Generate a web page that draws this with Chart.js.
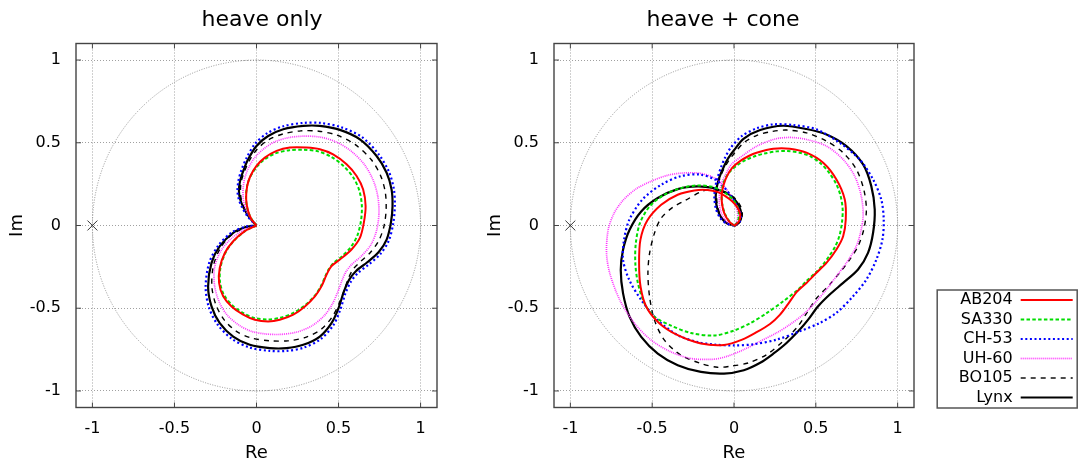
<!DOCTYPE html>
<html>
<head>
<meta charset="utf-8">
<script src="https://cdn.jsdelivr.net/npm/chart.js@4/dist/chart.umd.min.js"></script>
<style>
  body { margin: 0; background: #fff; width: 1081px; height: 462px; position: relative; overflow: hidden; }
  canvas { position: absolute; }
</style>
</head>
<body>
<canvas id="heave" width="524" height="462" style="left:0;top:0;width:524px;height:462px"></canvas>
<canvas id="cone" width="486" height="462" style="left:480px;top:0;width:486px;height:462px"></canvas>
<canvas id="key" width="301" height="140" style="left:780px;top:280px;width:301px;height:140px"></canvas>
<script>
const SERIES = ["AB204", "SA330", "CH-53", "UH-60", "BO105", "Lynx"];
const PANEL_TITLES = ["heave only", "heave + cone"];
const TICKS = [-1, -0.5, 0, 0.5, 1];
const TICK_LABELS = ["-1", "-0.5", "0", "0.5", "1"];
const CRITICAL_POINT = [[-1, 0]];

// heave only  [Re, Im]
const heaveAB204 = [[0,0],[-0.03,0.036],[-0.051,0.087],[-0.063,0.158],[-0.057,0.238],[-0.037,0.299],[0,0.36],[0.051,0.41],[0.122,0.451],[0.203,0.471],[0.305,0.471],[0.386,0.461],[0.467,0.43],[0.549,0.37],[0.61,0.299],[0.65,0.218],[0.665,0.117],[0.654,0.016],[0.63,-0.075],[0.579,-0.145],[0.508,-0.206],[0.457,-0.246],[0.427,-0.297],[0.396,-0.368],[0.356,-0.428],[0.295,-0.489],[0.224,-0.539],[0.142,-0.57],[0.071,-0.58],[-0.01,-0.57],[-0.081,-0.539],[-0.152,-0.489],[-0.203,-0.428],[-0.228,-0.347],[-0.224,-0.257],[-0.193,-0.166],[-0.142,-0.095],[-0.071,-0.034],[0,0]];
const heaveSA330 = [[0,0],[-0.03,0.04],[-0.053,0.09],[-0.064,0.16],[-0.058,0.235],[-0.04,0.29],[-0.006,0.345],[0.043,0.395],[0.113,0.435],[0.2,0.455],[0.29,0.458],[0.375,0.448],[0.455,0.415],[0.53,0.36],[0.59,0.29],[0.627,0.21],[0.642,0.12],[0.637,0.03],[0.615,-0.06],[0.575,-0.13],[0.517,-0.19],[0.47,-0.227],[0.44,-0.265],[0.418,-0.31],[0.393,-0.365],[0.357,-0.422],[0.298,-0.48],[0.225,-0.528],[0.145,-0.558],[0.07,-0.568],[-0.01,-0.56],[-0.08,-0.53],[-0.148,-0.482],[-0.198,-0.42],[-0.222,-0.345],[-0.22,-0.257],[-0.19,-0.166],[-0.14,-0.095],[-0.07,-0.034],[0,0]];
const heaveCH53 = [[0,0],[-0.05,0.05],[-0.088,0.11],[-0.108,0.16],[-0.116,0.21],[-0.11,0.27],[-0.092,0.335],[-0.06,0.41],[-0.008,0.495],[0.066,0.558],[0.163,0.6],[0.285,0.62],[0.39,0.62],[0.515,0.594],[0.642,0.535],[0.745,0.43],[0.807,0.325],[0.837,0.22],[0.843,0.117],[0.833,0.012],[0.806,-0.092],[0.755,-0.172],[0.685,-0.235],[0.618,-0.287],[0.575,-0.34],[0.542,-0.41],[0.51,-0.51],[0.468,-0.603],[0.392,-0.686],[0.288,-0.738],[0.183,-0.758],[0.081,-0.758],[-0.043,-0.737],[-0.15,-0.685],[-0.236,-0.6],[-0.29,-0.495],[-0.31,-0.37],[-0.288,-0.225],[-0.232,-0.12],[-0.148,-0.04],[-0.063,-0.006],[0,0]];
const heaveUH60 = [[0,0],[-0.038,0.045],[-0.066,0.1],[-0.08,0.158],[-0.082,0.22],[-0.072,0.285],[-0.05,0.345],[-0.015,0.405],[0.04,0.46],[0.11,0.505],[0.2,0.532],[0.3,0.54],[0.395,0.533],[0.49,0.503],[0.58,0.447],[0.66,0.365],[0.712,0.272],[0.74,0.172],[0.746,0.07],[0.732,-0.03],[0.698,-0.115],[0.642,-0.182],[0.578,-0.238],[0.545,-0.28],[0.52,-0.335],[0.494,-0.405],[0.462,-0.475],[0.413,-0.545],[0.34,-0.605],[0.25,-0.643],[0.15,-0.658],[0.06,-0.656],[-0.03,-0.64],[-0.11,-0.6],[-0.18,-0.54],[-0.228,-0.46],[-0.256,-0.36],[-0.255,-0.25],[-0.215,-0.15],[-0.155,-0.08],[-0.075,-0.025],[0,0]];
const heaveBO105 = [[0,0],[-0.043,0.05],[-0.075,0.11],[-0.093,0.16],[-0.098,0.21],[-0.092,0.27],[-0.072,0.33],[-0.042,0.395],[0.005,0.462],[0.07,0.516],[0.16,0.553],[0.27,0.572],[0.38,0.57],[0.49,0.546],[0.6,0.49],[0.7,0.397],[0.758,0.297],[0.785,0.2],[0.79,0.1],[0.778,0],[0.746,-0.09],[0.695,-0.162],[0.632,-0.22],[0.592,-0.26],[0.562,-0.315],[0.537,-0.385],[0.505,-0.467],[0.463,-0.55],[0.397,-0.625],[0.3,-0.676],[0.19,-0.697],[0.08,-0.697],[-0.03,-0.68],[-0.122,-0.64],[-0.197,-0.57],[-0.247,-0.48],[-0.272,-0.37],[-0.263,-0.245],[-0.222,-0.14],[-0.158,-0.062],[-0.073,-0.015],[0,0]];
const heaveLynx = [[0,0],[-0.045,0.05],[-0.08,0.11],[-0.1,0.16],[-0.107,0.21],[-0.1,0.27],[-0.081,0.329],[-0.051,0.4],[0,0.481],[0.071,0.541],[0.163,0.582],[0.285,0.602],[0.386,0.602],[0.508,0.578],[0.63,0.521],[0.732,0.42],[0.793,0.319],[0.823,0.218],[0.829,0.117],[0.819,0.016],[0.793,-0.085],[0.745,-0.16],[0.675,-0.222],[0.607,-0.275],[0.565,-0.327],[0.533,-0.398],[0.5,-0.499],[0.457,-0.59],[0.386,-0.671],[0.285,-0.721],[0.183,-0.741],[0.081,-0.741],[-0.041,-0.721],[-0.142,-0.671],[-0.224,-0.59],[-0.274,-0.489],[-0.295,-0.368],[-0.274,-0.226],[-0.224,-0.125],[-0.142,-0.044],[-0.061,-0.008],[0,0]];

// heave + cone  [Re, Im]
const coneAB204 = [[0,0],[-0.03,0.025],[-0.058,0.07],[-0.073,0.13],[-0.075,0.19],[-0.062,0.25],[-0.042,0.3],[-0.01,0.35],[0.037,0.389],[0.09,0.42],[0.138,0.44],[0.24,0.464],[0.341,0.464],[0.443,0.44],[0.545,0.379],[0.626,0.278],[0.677,0.157],[0.683,0.036],[0.667,-0.065],[0.626,-0.145],[0.565,-0.226],[0.504,-0.286],[0.443,-0.347],[0.385,-0.4],[0.33,-0.475],[0.28,-0.54],[0.22,-0.595],[0.138,-0.645],[0.05,-0.69],[-0.061,-0.722],[-0.202,-0.713],[-0.344,-0.663],[-0.455,-0.592],[-0.536,-0.491],[-0.571,-0.37],[-0.58,-0.228],[-0.572,-0.087],[-0.53,0.03],[-0.445,0.125],[-0.344,0.186],[-0.243,0.212],[-0.162,0.215],[-0.101,0.203],[-0.051,0.176],[-0.01,0.145],[0.02,0.11],[0.038,0.067],[0.031,0.026],[0.008,0.002],[0,0]];
const coneSA330 = [[0,0],[-0.028,0.025],[-0.055,0.07],[-0.072,0.13],[-0.075,0.19],[-0.068,0.245],[-0.05,0.29],[-0.02,0.33],[0.02,0.365],[0.07,0.395],[0.13,0.42],[0.186,0.435],[0.26,0.448],[0.326,0.45],[0.4,0.44],[0.465,0.419],[0.53,0.375],[0.581,0.319],[0.625,0.25],[0.651,0.18],[0.664,0.1],[0.66,0.02],[0.645,-0.06],[0.617,-0.13],[0.585,-0.18],[0.545,-0.235],[0.504,-0.28],[0.443,-0.335],[0.392,-0.387],[0.301,-0.458],[0.199,-0.53],[0.1,-0.59],[0,-0.635],[-0.121,-0.665],[-0.263,-0.65],[-0.385,-0.605],[-0.486,-0.552],[-0.547,-0.471],[-0.587,-0.349],[-0.603,-0.228],[-0.6,-0.107],[-0.575,0.014],[-0.516,0.115],[-0.425,0.186],[-0.324,0.226],[-0.223,0.242],[-0.142,0.236],[-0.09,0.218],[-0.045,0.19],[-0.005,0.155],[0.02,0.115],[0.03,0.07],[0.025,0.028],[0.007,0.002],[0,0]];
const coneCH53 = [[0,0],[-0.045,0.012],[-0.085,0.046],[-0.11,0.1],[-0.12,0.168],[-0.115,0.23],[-0.1,0.29],[-0.08,0.35],[-0.055,0.41],[-0.02,0.47],[0.047,0.54],[0.14,0.588],[0.24,0.611],[0.362,0.607],[0.504,0.581],[0.646,0.5],[0.768,0.399],[0.85,0.278],[0.9,0.157],[0.915,0.036],[0.907,-0.085],[0.87,-0.206],[0.809,-0.327],[0.728,-0.427],[0.626,-0.528],[0.524,-0.589],[0.402,-0.639],[0.26,-0.69],[0.118,-0.718],[0,-0.725],[-0.116,-0.72],[-0.22,-0.705],[-0.344,-0.663],[-0.466,-0.572],[-0.567,-0.45],[-0.64,-0.329],[-0.678,-0.208],[-0.672,-0.087],[-0.64,0.034],[-0.557,0.16],[-0.442,0.248],[-0.326,0.298],[-0.209,0.308],[-0.116,0.278],[-0.06,0.23],[-0.02,0.18],[0.015,0.125],[0.04,0.07],[0.036,0.025],[0.01,0.002],[0,0]];
const coneUH60 = [[0,0],[-0.035,0.015],[-0.065,0.05],[-0.085,0.1],[-0.09,0.16],[-0.085,0.22],[-0.07,0.27],[-0.045,0.32],[-0.015,0.37],[0.05,0.42],[0.14,0.48],[0.256,0.524],[0.35,0.532],[0.443,0.52],[0.565,0.48],[0.667,0.399],[0.738,0.298],[0.778,0.177],[0.789,0.056],[0.768,-0.065],[0.738,-0.145],[0.687,-0.226],[0.626,-0.306],[0.565,-0.387],[0.494,-0.468],[0.423,-0.538],[0.341,-0.599],[0.26,-0.649],[0.159,-0.7],[0.06,-0.75],[-0.04,-0.79],[-0.121,-0.808],[-0.263,-0.804],[-0.385,-0.764],[-0.506,-0.693],[-0.607,-0.592],[-0.698,-0.45],[-0.759,-0.289],[-0.779,-0.168],[-0.769,-0.026],[-0.735,0.07],[-0.68,0.15],[-0.6,0.22],[-0.5,0.27],[-0.4,0.305],[-0.3,0.318],[-0.204,0.315],[-0.122,0.289],[-0.071,0.248],[-0.031,0.198],[0,0.14],[0.02,0.09],[0.022,0.045],[0.01,0.01],[0,0]];
const coneBO105 = [[0,0],[-0.04,0.015],[-0.075,0.05],[-0.098,0.105],[-0.106,0.17],[-0.1,0.23],[-0.085,0.29],[-0.06,0.345],[-0.03,0.395],[0.005,0.44],[0.06,0.5],[0.14,0.545],[0.23,0.568],[0.321,0.577],[0.443,0.56],[0.565,0.51],[0.667,0.44],[0.748,0.339],[0.793,0.218],[0.809,0.097],[0.793,-0.024],[0.758,-0.125],[0.707,-0.206],[0.646,-0.286],[0.575,-0.367],[0.504,-0.44],[0.45,-0.52],[0.39,-0.61],[0.3,-0.7],[0.2,-0.78],[0.09,-0.83],[-0.02,-0.85],[-0.101,-0.857],[-0.202,-0.834],[-0.324,-0.784],[-0.425,-0.693],[-0.486,-0.572],[-0.516,-0.43],[-0.526,-0.289],[-0.516,-0.168],[-0.486,-0.046],[-0.445,0.045],[-0.374,0.11],[-0.3,0.15],[-0.2,0.205],[-0.13,0.222],[-0.09,0.215],[-0.04,0.195],[0.005,0.165],[0.038,0.12],[0.051,0.075],[0.042,0.03],[0.01,0.002],[0,0]];
const coneLynx = [[0,0],[-0.041,0.012],[-0.077,0.046],[-0.102,0.101],[-0.112,0.168],[-0.106,0.228],[-0.09,0.289],[-0.065,0.349],[-0.037,0.404],[0,0.455],[0.06,0.525],[0.16,0.577],[0.3,0.603],[0.443,0.583],[0.565,0.55],[0.687,0.48],[0.789,0.369],[0.839,0.238],[0.86,0.097],[0.85,-0.044],[0.819,-0.165],[0.758,-0.266],[0.667,-0.347],[0.585,-0.417],[0.514,-0.488],[0.453,-0.569],[0.402,-0.629],[0.321,-0.71],[0.24,-0.775],[0.16,-0.83],[0.06,-0.875],[-0.061,-0.895],[-0.202,-0.885],[-0.344,-0.844],[-0.466,-0.774],[-0.567,-0.673],[-0.638,-0.552],[-0.678,-0.41],[-0.692,-0.269],[-0.678,-0.147],[-0.638,-0.026],[-0.567,0.085],[-0.466,0.166],[-0.344,0.22],[-0.223,0.236],[-0.121,0.226],[-0.092,0.214],[-0.041,0.194],[0,0.162],[0.031,0.117],[0.045,0.067],[0.035,0.022],[0.006,0],[0,0]];

const FONT = "'DejaVu Sans', sans-serif";

// line look per helicopter
const STYLE = {
  "AB204": { color: "#ff0000", dash: [], width: 2 },
  "SA330": { color: "#00dd00", dash: [3.5, 2.3], width: 2 },
  "CH-53": { color: "#0000ff", dash: [2, 2.6], width: 2.2 },
  "UH-60": { color: "#ff33ff", dash: [1, 1], width: 1.7 },
  "BO105": { color: "#000000", dash: [5, 5], width: 1.4 },
  "Lynx":  { color: "#000000", dash: [], width: 2.2 }
};

Chart.defaults.font.family = FONT;

const toPoints = arr => arr.map(([x, y]) => ({ x, y }));

function makeDatasets(curves) {
  const sets = SERIES.map((name, i) => ({
    label: name,
    data: toPoints(curves[i]),
    showLine: true,
    borderColor: STYLE[name].color,
    backgroundColor: STYLE[name].color,
    borderDash: STYLE[name].dash,
    borderWidth: STYLE[name].width,
    pointRadius: 0,
    pointHoverRadius: 0,
    tension: 0.3,
    fill: false
  }));
  sets.push({
    label: "-1",
    data: toPoints(CRITICAL_POINT),
    showLine: false,
    pointStyle: "crossRot",
    pointRadius: 7,
    borderColor: "#333",
    borderWidth: 1
  });
  return sets;
}

// unit circle behind the curves, gnuplot style frame with inward ticks on top
const framePlugin = {
  id: "frame",
  beforeDatasetsDraw(chart) {
    const { ctx, scales: { x, y } } = chart;
    const cx = x.getPixelForValue(0), cy = y.getPixelForValue(0);
    const rx = x.getPixelForValue(1) - cx, ry = cy - y.getPixelForValue(1);
    ctx.save();
    ctx.strokeStyle = "#888";
    ctx.lineWidth = 0.9;
    ctx.setLineDash([1, 1.5]);
    ctx.beginPath();
    ctx.ellipse(cx, cy, rx, ry, 0, 0, Math.PI * 2);
    ctx.stroke();
    ctx.restore();
  },
  afterDatasetsDraw(chart) {
    const { ctx, chartArea: a, scales: { x, y } } = chart;
    ctx.save();
    ctx.setLineDash([]);
    ctx.strokeStyle = "#444";
    ctx.lineWidth = 1;
    ctx.beginPath();
    TICKS.forEach(v => {
      const px = x.getPixelForValue(v), py = y.getPixelForValue(v);
      ctx.moveTo(px, a.bottom); ctx.lineTo(px, a.bottom - 5);
      ctx.moveTo(px, a.top); ctx.lineTo(px, a.top + 5);
      ctx.moveTo(a.left, py); ctx.lineTo(a.left + 5, py);
      ctx.moveTo(a.right, py); ctx.lineTo(a.right - 5, py);
    });
    ctx.stroke();
    ctx.lineWidth = 1.4;
    ctx.strokeRect(a.left, a.top, a.right - a.left, a.bottom - a.top);
    ctx.restore();
  }
};

function panelOptions(title, yWidth, mirrorWidth, imPad) {
  const range = {
    type: "linear", min: -1.1, max: 1.1,
    afterBuildTicks: s => { s.ticks = TICKS.map(v => ({ value: v })); },
    grid: { color: "#a0a0a0", lineWidth: 1, drawTicks: false },
    border: { display: false, dash: [1, 2] }
  };
  const tickOpts = pad => ({
    padding: pad, color: "#000", font: { size: 16 }, autoSkip: false, maxRotation: 0,
    callback: v => TICK_LABELS[TICKS.indexOf(v)]
  });
  return {
    responsive: false,
    animation: false,
    events: [],
    layout: { padding: 0 },
    scales: {
      x: {
        ...range, position: "bottom",
        ticks: tickOpts(12),
        title: { display: true, text: "Re", color: "#000", font: { size: 18, lineHeight: 1 }, padding: 0 },
        afterFit: s => { s.height = 54.5; }
      },
      y: {
        ...range, position: "left",
        ticks: tickOpts(15),
        title: { display: true, text: "Im", color: "#000", font: { size: 18, lineHeight: 1 }, padding: { top: imPad, bottom: 0 } },
        afterFit: s => { s.width = yWidth; }
      },
      // mirror side, keeps room right of the frame
      y2: {
        type: "linear", position: "right", display: true,
        ticks: { display: false }, grid: { display: false }, border: { display: false },
        afterFit: s => { s.width = mirrorWidth; }
      }
    },
    plugins: {
      legend: { display: false },
      tooltip: { enabled: false },
      title: {
        display: true, text: title, color: "#000",
        font: { size: 22, weight: "normal" },
        padding: { top: 7.5, bottom: 9.6 }
      }
    }
  };
}

new Chart(document.getElementById("heave"), {
  type: "scatter",
  data: { datasets: makeDatasets([heaveAB204, heaveSA330, heaveCH53, heaveUH60, heaveBO105, heaveLynx]) },
  options: panelOptions(PANEL_TITLES[0], 76, 87, 8.2),
  plugins: [framePlugin]
});

new Chart(document.getElementById("cone"), {
  type: "scatter",
  data: { datasets: makeDatasets([coneAB204, coneSA330, coneCH53, coneUH60, coneBO105, coneLynx]) },
  options: panelOptions(PANEL_TITLES[1], 74, 52, 6.3),
  plugins: [framePlugin]
});

// key box around the legend
const keyBoxPlugin = {
  id: "keyBox",
  afterDraw(chart) {
    const l = chart.legend;
    const ctx = chart.ctx;
    ctx.save();
    ctx.strokeStyle = "#555";
    ctx.lineWidth = 1.5;
    ctx.strokeRect(l.right - 139, l.top + 1.5, 140, 118);
    ctx.restore();
  }
};

new Chart(document.getElementById("key"), {
  type: "scatter",
  data: { datasets: [] },
  options: {
    responsive: false,
    animation: false,
    events: [],
    layout: { padding: { top: 8.5, right: 4.8 } },
    scales: { x: { display: false }, y: { display: false } },
    plugins: {
      tooltip: { enabled: false },
      legend: {
        position: "right", align: "start", rtl: true, textDirection: "ltr",
        labels: {
          font: { size: 16 }, color: "#000",
          usePointStyle: true, pointStyleWidth: 52, padding: 3.5,
          generateLabels: () => SERIES.map((name, i) => ({
            text: name,
            fontColor: "#000",
            strokeStyle: STYLE[name].color,
            fillStyle: STYLE[name].color,
            lineWidth: STYLE[name].width,
            lineDash: STYLE[name].dash,
            pointStyle: "line",
            hidden: false,
            datasetIndex: i
          }))
        }
      }
    }
  },
  plugins: [keyBoxPlugin]
});
</script>
</body>
</html>
